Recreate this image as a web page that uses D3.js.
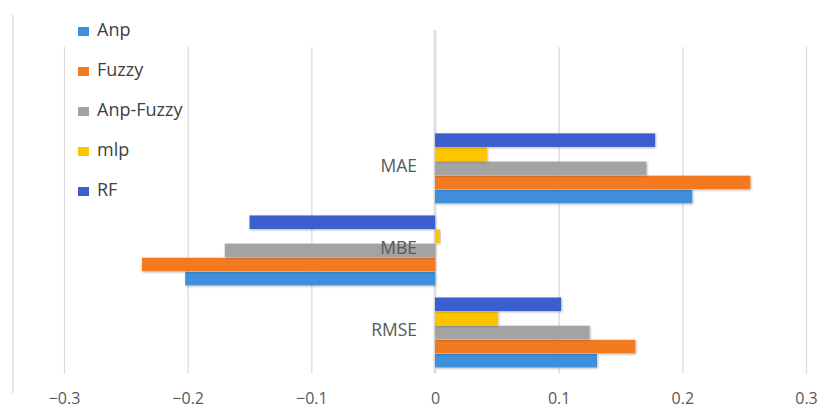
<!DOCTYPE html>
<html>
<head>
<meta charset="utf-8">
<script src="https://cdn.jsdelivr.net/npm/d3@7/dist/d3.min.js"></script>
<style>
  html, body { margin: 0; padding: 0; background: #fff; }
  svg { display: block; font-family: "Open Sans", "Noto Sans", sans-serif; }
</style>
</head>
<body>
<svg id="chart" width="821" height="410"></svg>
<script>
// Error metrics per method
const categories = ["MAE", "MBE", "RMSE"];
const seriesNames = ["Anp", "Fuzzy", "Anp-Fuzzy", "mlp", "RF"];
const anp      = [0.208, -0.202, 0.131];
const fuzzy    = [0.255, -0.237, 0.162];
const anpFuzzy = [0.171, -0.170, 0.125];
const mlp      = [0.042,  0.004, 0.051];
const rf       = [0.178, -0.150, 0.102];
const xTicks   = [-0.3, -0.2, -0.1, 0, 0.1, 0.2, 0.3];

const seriesValues = [anp, fuzzy, anpFuzzy, mlp, rf];
const colors = ["#3f8fdc", "#f47a22", "#a3a3a3", "#ffc400", "#3b5fcd"];

const svg = d3.select("#chart");

const x = d3.scaleLinear().domain([-0.3, 0.3]).range([64, 806]);
const gridTop = 47, gridBottom = 373.5;

const y = d3.scaleBand()
  .domain(categories)
  .range([127.3, 373.5])
  .paddingInner(0.148)
  .paddingOuter(0.074);

// Bars inside each group: first series at the bottom
const yInner = d3.scaleBand()
  .domain(seriesNames.slice().reverse())
  .range([0, y.bandwidth()])
  .paddingInner(0.04);

const defs = svg.append("defs");
const shadow = defs.append("filter").attr("id", "barShadow")
  .attr("x", "-5%").attr("y", "-20%").attr("width", "110%").attr("height", "160%");
shadow.append("feDropShadow")
  .attr("dx", 0.8).attr("dy", 1).attr("stdDeviation", 0.8)
  .attr("flood-color", "#000").attr("flood-opacity", 0.3);

// Chart area edge on the left
svg.append("line")
  .attr("x1", 13).attr("x2", 13).attr("y1", 15).attr("y2", 393)
  .attr("stroke", "#d0d0d0").attr("stroke-width", 1.2);

// Vertical gridlines with value labels below
const xAxis = d3.axisBottom(x)
  .tickValues(xTicks)
  .tickSize(-(gridBottom - gridTop))
  .tickFormat(d => d === 0 ? "0" : d3.format(".1f")(d));

const gx = svg.append("g")
  .attr("transform", `translate(0,${gridBottom})`)
  .call(xAxis);
gx.select(".domain").remove();
gx.selectAll(".tick line").attr("stroke", "#d9d9d9").attr("stroke-width", 1.2);
gx.selectAll(".tick text")
  .attr("y", 30)
  .attr("dy", null)
  .attr("fill", "#595959")
  .attr("font-size", 16)
  .attr("font-family", "'Open Sans', sans-serif");

// Category axis at zero
svg.append("line")
  .attr("x1", x(0)).attr("x2", x(0))
  .attr("y1", 30).attr("y2", gridBottom)
  .attr("stroke", "#e0e0e0").attr("stroke-width", 3);

// Bars
const groups = svg.append("g").selectAll("g")
  .data(categories)
  .join("g")
  .attr("transform", d => `translate(0,${y(d)})`);

groups.selectAll("rect")
  .data((c, ci) => seriesNames.map((s, si) => ({ s, si, v: seriesValues[si][ci] })))
  .join("rect")
  .attr("x", d => Math.min(x(0), x(d.v)))
  .attr("width", d => Math.abs(x(d.v) - x(0)))
  .attr("y", d => yInner(d.s))
  .attr("height", yInner.bandwidth())
  .attr("fill", d => colors[d.si])
  .attr("filter", "url(#barShadow)");

// Category labels next to the zero axis
svg.append("g").selectAll("text")
  .data(categories)
  .join("text")
  .attr("x", x(0) - 18)
  .attr("y", d => y(d) + y.bandwidth() / 2 - 1)
  .attr("text-anchor", "end")
  .attr("dominant-baseline", "middle")
  .attr("fill", "#595959")
  .attr("font-size", 17.5)
  .text(d => d);

// Legend
const legend = svg.append("g").selectAll("g")
  .data(seriesNames)
  .join("g")
  .attr("transform", (d, i) => `translate(78,${31.5 + i * 40})`);
legend.append("rect")
  .attr("x", 0).attr("y", -4.5)
  .attr("width", 11).attr("height", 9)
  .attr("fill", (d, i) => colors[i]);
legend.append("text")
  .attr("x", 19).attr("y", 0)
  .attr("dominant-baseline", "middle")
  .attr("fill", "#404040")
  .attr("font-size", 18)
  .text(d => d);
</script>
</body>
</html>
